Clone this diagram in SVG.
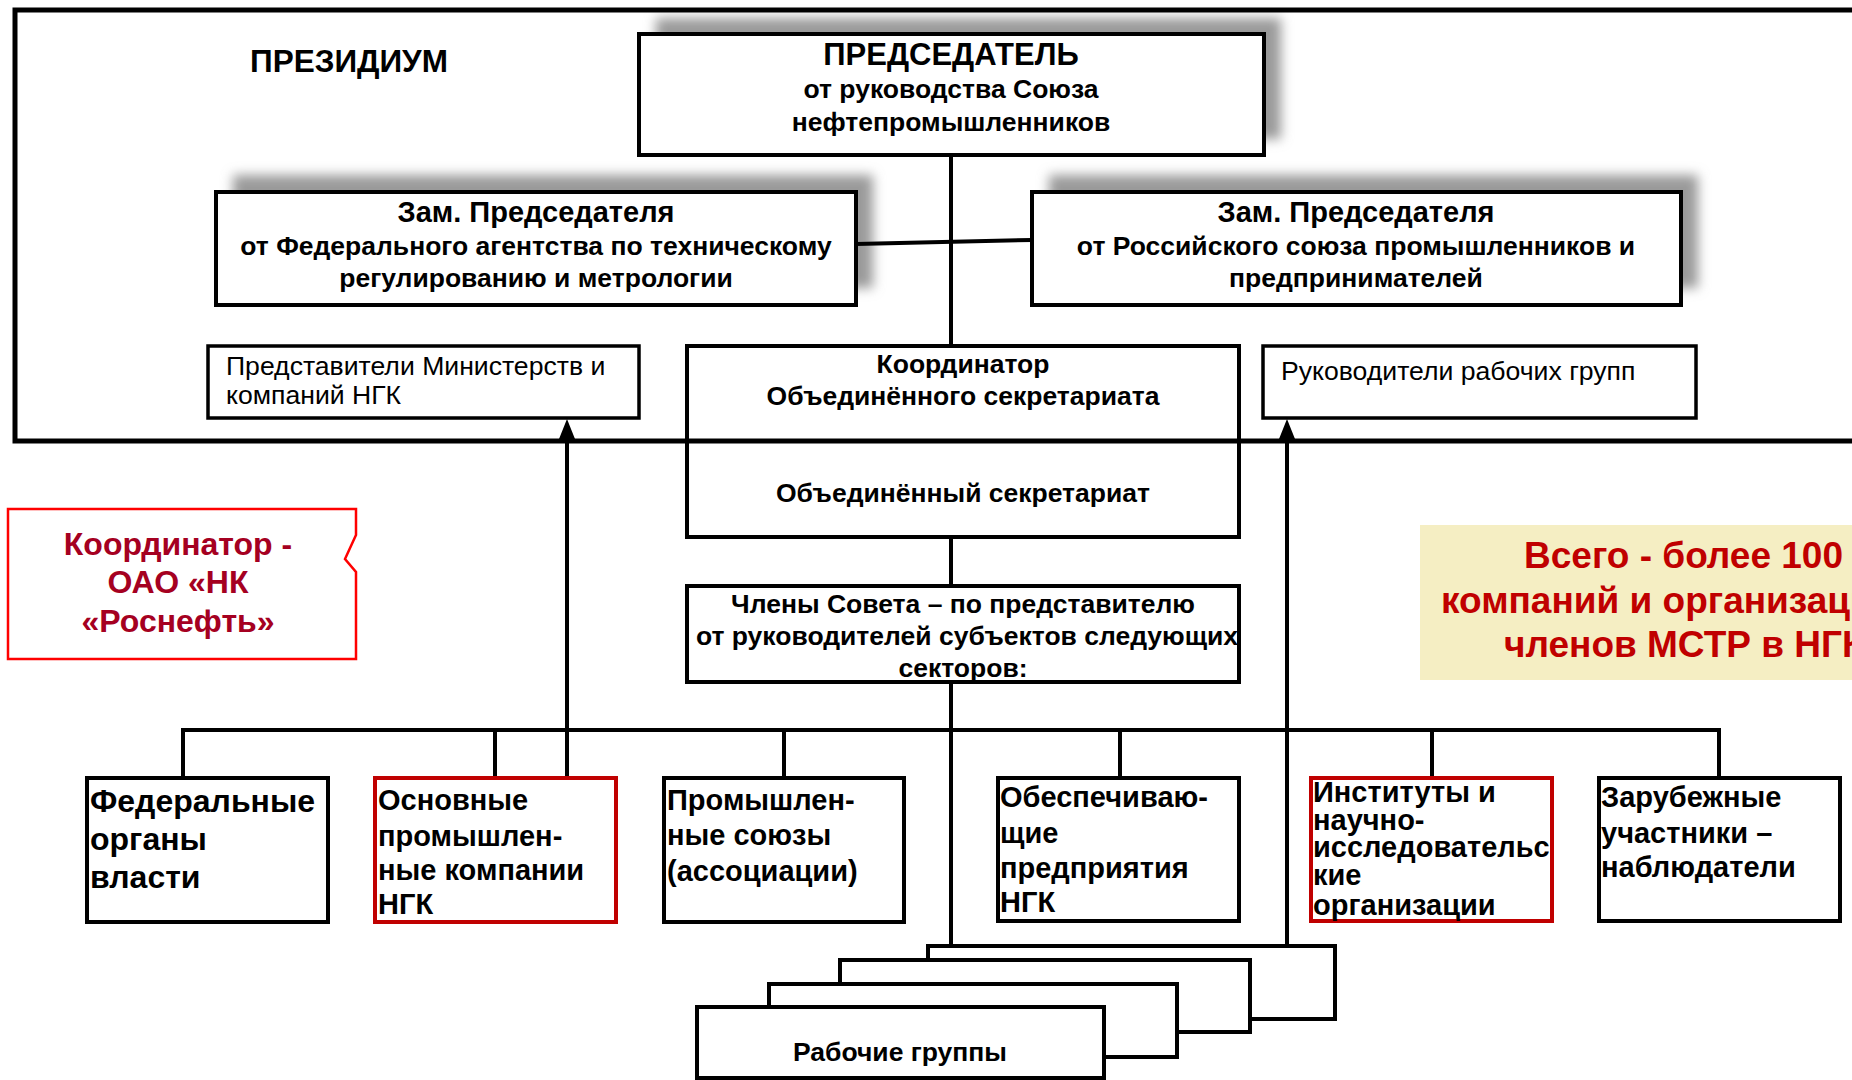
<svg xmlns="http://www.w3.org/2000/svg" width="1852" height="1080" viewBox="0 0 1852 1080">
<style>
  text { font-family: "Liberation Sans", Arial, sans-serif; fill: #000; }
  .b { font-weight: bold; }
  .c { text-anchor: middle; }
  .box { fill: #fff; stroke: #000; stroke-width: 4; }
  .rbox { fill: #fff; stroke: #c00000; stroke-width: 4; }
  .thin { fill: #fff; stroke: #000; stroke-width: 3.5; }
  .shadow { fill: #9a9a9a; filter: url(#blur); }
  .ln { fill: none; stroke: #000; stroke-width: 4; }
  .t31 { font-size: 31px; }
  .t29 { font-size: 29px; }
  .t26 { font-size: 26.5px; }
  .t25 { font-size: 26.6px; }
  .t32 { font-size: 32px; }
  .red { fill: #a50021; }
  .red2 { fill: #c00000; font-size: 37px; }
</style>
<defs>
  <filter id="blur" x="-10%" y="-30%" width="120%" height="160%">
    <feGaussianBlur stdDeviation="6"/>
  </filter>
  <marker id="arr" viewBox="0 0 20 16" refX="9" refY="8" markerWidth="20" markerHeight="16" markerUnits="userSpaceOnUse" orient="auto">
    <path d="M0,0 L20,8 L0,16 z" fill="#000"/>
  </marker>
</defs>
<rect x="0" y="0" width="1852" height="1080" fill="#fff"/>

<!-- shadows -->
<rect class="shadow" x="656" y="18" width="625" height="121"/>
<rect class="shadow" x="233" y="175" width="640" height="113"/>
<rect class="shadow" x="1049" y="175" width="649" height="113"/>

<!-- connectors -->
<g id="connectors">
  <line class="ln" x1="951" y1="155" x2="951" y2="346"/>
  <line class="ln" x1="856" y1="244" x2="1032" y2="240"/>
  <line class="ln" x1="951" y1="537" x2="951" y2="586"/>
  <line class="ln" x1="951" y1="682" x2="951" y2="947"/>
  <polyline class="ln" points="183,778 183,730 1719,730 1719,778"/>
  <line class="ln" x1="495" y1="730" x2="495" y2="778"/>
  <line class="ln" x1="784" y1="730" x2="784" y2="778"/>
  <line class="ln" x1="1120" y1="730" x2="1120" y2="778"/>
  <line class="ln" x1="1432" y1="730" x2="1432" y2="778"/>
  <line class="ln" x1="567" y1="778" x2="567" y2="430" marker-end="url(#arr)"/>
  <line class="ln" x1="1287" y1="946" x2="1287" y2="430" marker-end="url(#arr)"/>
</g>

<g id="chairman">
  <rect class="box" x="639" y="34" width="625" height="121"/>
  <text class="b c t31" x="951" y="65">ПРЕДСЕДАТЕЛЬ</text>
  <text class="b c t26" x="951" y="98">от руководства Союза</text>
  <text class="b c t26" x="951" y="131">нефтепромышленников</text>
</g>

<g id="deputy-left">
  <rect class="box" x="216" y="192" width="640" height="113"/>
  <text class="b c t29" x="536" y="222">Зам. Председателя</text>
  <text class="b c t26" x="536" y="255">от Федерального агентства по техническому</text>
  <text class="b c t26" x="536" y="287">регулированию и метрологии</text>
</g>

<g id="deputy-right">
  <rect class="box" x="1032" y="192" width="649" height="113"/>
  <text class="b c t29" x="1356" y="222">Зам. Председателя</text>
  <text class="b c t26" x="1356" y="255">от Российского союза промышленников и</text>
  <text class="b c t26" x="1356" y="287">предпринимателей</text>
</g>

<g id="representatives">
  <rect class="thin" x="208" y="346" width="431" height="72"/>
  <text class="t25" x="226" y="375">Представители Министерств и</text>
  <text class="t25" x="226" y="404">компаний НГК</text>
</g>

<g id="wg-leaders">
  <rect class="thin" x="1263" y="346" width="433" height="72"/>
  <text class="t25" x="1281" y="380">Руководители рабочих групп</text>
</g>

<g id="secretariat">
  <rect class="box" x="687" y="346" width="552" height="191"/>
  <text class="b c t26" x="963" y="373">Координатор</text>
  <text class="b c t26" x="963" y="405">Объединённого секретариата</text>
  <text class="b c t26" x="963" y="502">Объединённый секретариат</text>
</g>

<g id="presidium">
  <rect x="15" y="10" width="1900" height="431" fill="none" stroke="#000" stroke-width="5"/>
  <text class="b" style="font-size:31.5px" x="250" y="72">ПРЕЗИДИУМ</text>
</g>

<g id="council">
  <rect class="box" x="687" y="586" width="552" height="96"/>
  <text class="b c t26" x="963" y="613">Члены Совета – по представителю</text>
  <text class="b c t26" x="967" y="645">от руководителей субъектов следующих</text>
  <text class="b c t26" x="963" y="677">секторов:</text>
</g>

<g id="coordinator-rosneft">
  <path d="M8,509 H356 V535 L345,559 L356,572 V659 H8 Z" fill="#fff" stroke="#ff0000" stroke-width="2.5"/>
  <text class="b c t32 red" x="178" y="555">Координатор -</text>
  <text class="b c t32 red" x="178" y="593">ОАО «НК</text>
  <text class="b c t32 red" x="178" y="632">«Роснефть»</text>
</g>

<g id="total">
  <rect x="1420" y="525" width="440" height="155" fill="#f5eec3"/>
  <text class="b red2" x="1524" y="568">Всего - более 100</text>
  <text class="b red2" x="1441" y="613">компаний и организаций</text>
  <text class="b red2" x="1504" y="657">членов МСТР в НГК</text>
</g>

<g id="federal">
  <rect class="box" x="87" y="778" width="241" height="144"/>
  <text class="b t32" x="90" y="812">Федеральные</text>
  <text class="b t32" x="90" y="850">органы</text>
  <text class="b t32" x="90" y="888">власти</text>
</g>

<g id="main-companies">
  <rect class="rbox" x="375" y="778" width="241" height="144"/>
  <text class="b t29" x="378" y="810">Основные</text>
  <text class="b t29" x="378" y="846">промышлен-</text>
  <text class="b t29" x="378" y="880">ные компании</text>
  <text class="b t29" x="378" y="914">НГК</text>
</g>

<g id="unions">
  <rect class="box" x="664" y="778" width="240" height="144"/>
  <text class="b t29" x="667" y="810">Промышлен-</text>
  <text class="b t29" x="667" y="845">ные союзы</text>
  <text class="b t29" x="667" y="881">(ассоциации)</text>
</g>

<g id="support">
  <rect class="box" x="998" y="778" width="241" height="143"/>
  <text class="b t29" x="1000" y="807">Обеспечиваю-</text>
  <text class="b t29" x="1000" y="843">щие</text>
  <text class="b t29" x="1000" y="878">предприятия</text>
  <text class="b t29" x="1000" y="912">НГК</text>
</g>

<g id="institutes">
  <rect class="rbox" x="1311" y="778" width="241" height="143"/>
  <text class="b t29" x="1313" y="802">Институты и</text>
  <text class="b t29" x="1313" y="830">научно-</text>
  <text class="b t29" x="1313" y="857">исследовательс</text>
  <text class="b t29" x="1313" y="885">кие</text>
  <text class="b t29" x="1313" y="915">организации</text>
</g>

<g id="foreign">
  <rect class="box" x="1599" y="778" width="241" height="143"/>
  <text class="b t29" x="1601" y="807">Зарубежные</text>
  <text class="b t29" x="1601" y="843">участники –</text>
  <text class="b t29" x="1601" y="877">наблюдатели</text>
</g>

<g id="working-groups">
  <rect class="box" x="928" y="946" width="407" height="73"/>
  <rect class="box" x="840" y="960" width="410" height="72"/>
  <rect class="box" x="769" y="984" width="408" height="73"/>
  <rect class="box" x="697" y="1007" width="407" height="71"/>
  <text class="b c t26" x="900" y="1061">Рабочие группы</text>
</g>
</svg>
